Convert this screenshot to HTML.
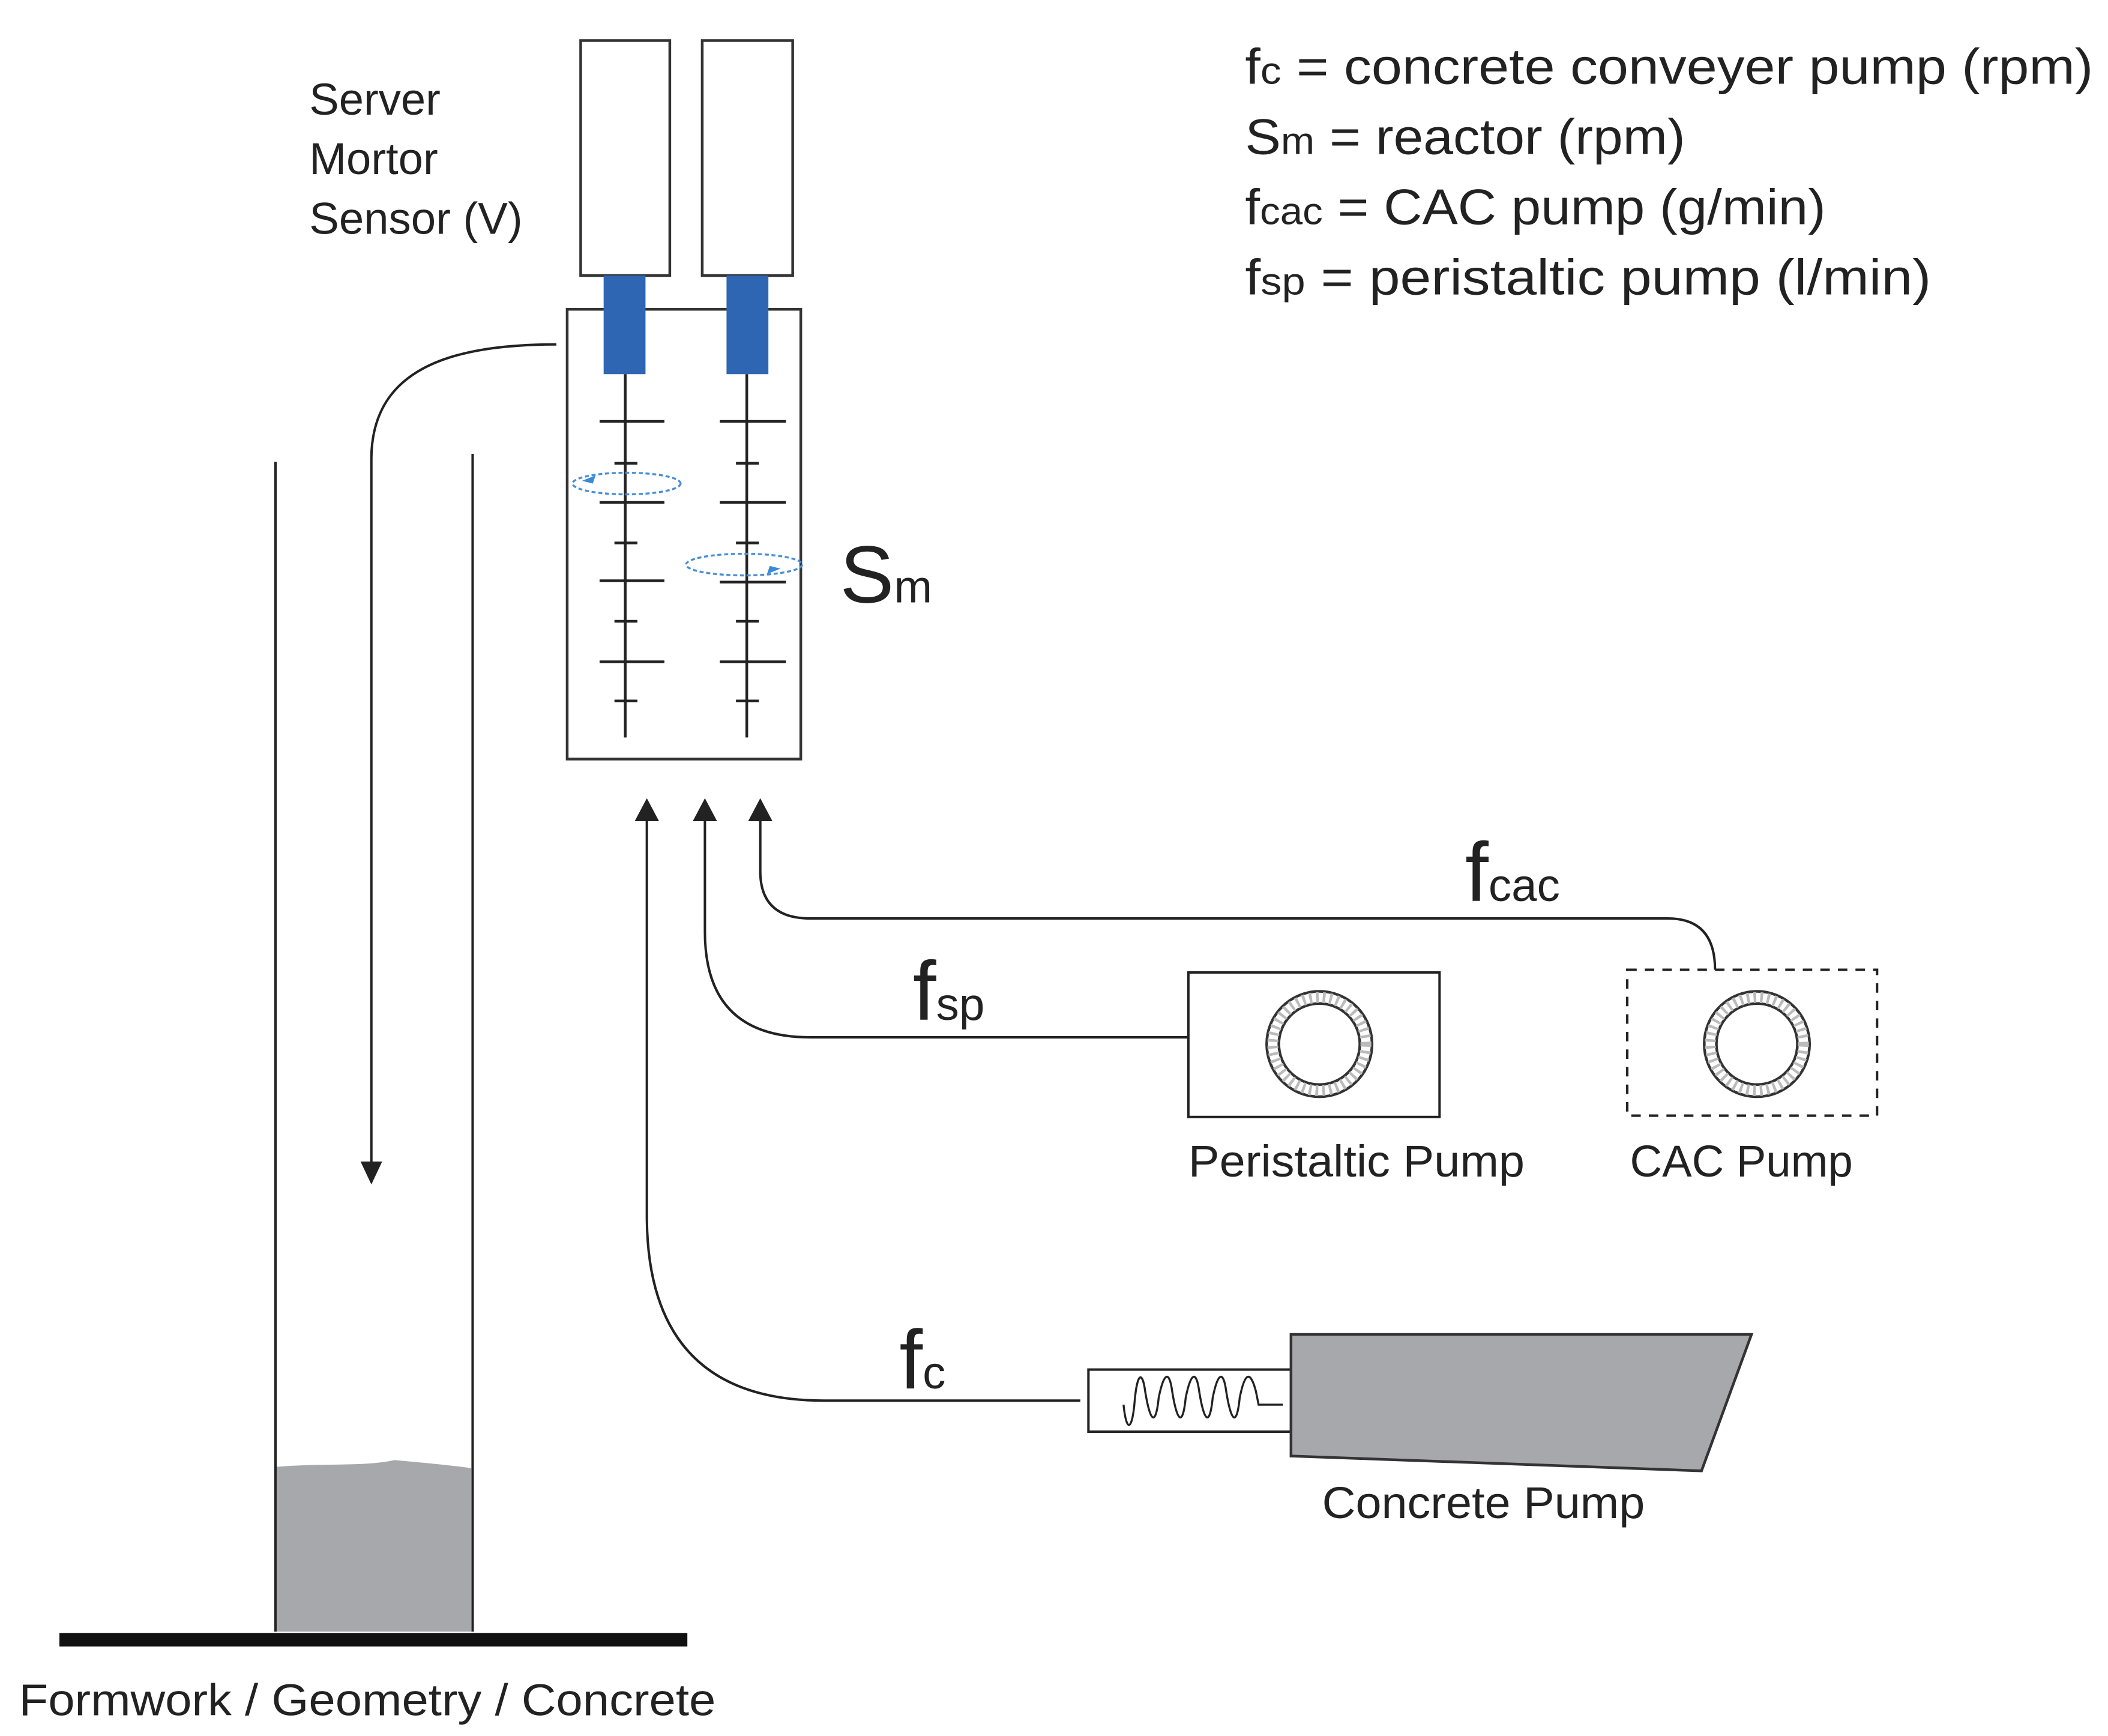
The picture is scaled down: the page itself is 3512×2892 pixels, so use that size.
<!DOCTYPE html>
<html><head><meta charset="utf-8"><style>html,body{margin:0;padding:0;background:#fff}svg{display:block}</style></head>
<body>
<svg width="3512" height="2892" viewBox="0 0 1561 1285.3" preserveAspectRatio="none" xmlns="http://www.w3.org/2000/svg" font-family="Liberation Sans, sans-serif" fill="#222">
<rect x="0" y="0" width="1561" height="1286" fill="#fff"/>
<g stroke="#333" stroke-width="2" fill="none">
<!-- motors -->
<rect x="430" y="30" width="66" height="174"/>
<rect x="520" y="30" width="67" height="174"/>
<!-- reactor -->
<rect x="420" y="229" width="173" height="333"/>
</g>
<rect x="447" y="204" width="31" height="73" fill="#2f66b3"/>
<rect x="538" y="204" width="31" height="73" fill="#2f66b3"/>
<g stroke="#222" stroke-width="2">
<line x1="463" y1="277" x2="463" y2="546"/>
<line x1="553" y1="277" x2="553" y2="546"/>
<line x1="444" y1="312" x2="492" y2="312"/><line x1="455" y1="343" x2="472" y2="343"/>
<line x1="444" y1="372" x2="492" y2="372"/><line x1="455" y1="402" x2="472" y2="402"/>
<line x1="444" y1="430" x2="492" y2="430"/><line x1="455" y1="460" x2="472" y2="460"/>
<line x1="444" y1="490" x2="492" y2="490"/><line x1="455" y1="519" x2="472" y2="519"/>
<line x1="533" y1="312" x2="582" y2="312"/><line x1="545" y1="343" x2="562" y2="343"/>
<line x1="533" y1="372" x2="582" y2="372"/><line x1="545" y1="402" x2="562" y2="402"/>
<line x1="533" y1="431" x2="582" y2="431"/><line x1="545" y1="460" x2="562" y2="460"/>
<line x1="533" y1="490" x2="582" y2="490"/><line x1="545" y1="519" x2="562" y2="519"/>
</g>
<g stroke="#4a8fd6" stroke-width="1.5" stroke-dasharray="3,2" fill="none">
<ellipse cx="464" cy="358" rx="40" ry="8"/>
<ellipse cx="551" cy="418" rx="43" ry="8"/>
</g>
<path d="M431,356 l10,-4 l-2,6z" fill="#3a8ad6"/>
<path d="M578,421 l-10,4 l2,-6z" fill="#3a8ad6"/>
<!-- return curve -->
<g stroke="#222" stroke-width="1.8" fill="none">
<path d="M412,255 C330,255 275,275 275,340 L275,862"/>
<line x1="204" y1="342" x2="204" y2="1208"/>
<line x1="350" y1="336" x2="350" y2="1208"/>
<path d="M563,606 L563,645 Q563,680 600,680 L1235,680 Q1270,680 1270,718"/>
<path d="M522,606 L522,690 Q522,768 600,768 L880,768"/>
<path d="M479,606 L479,900 Q479,1037 610,1037 L800,1037"/>
<rect x="880" y="720" width="186" height="107"/>
<rect x="1205" y="718" width="185" height="108" stroke-dasharray="7,6"/>
<rect x="806" y="1014" width="150" height="46"/>
<path d="M832,1040 C834,1060 838,1060 840,1040 C842,1015 846,1015 848,1030 C852,1055 856,1055 858,1035 C862,1015 866,1015 868,1030 C872,1055 876,1055 878,1035 C882,1015 886,1015 888,1030 C892,1055 896,1055 898,1035 C902,1015 906,1015 908,1030 C912,1055 916,1055 918,1035 C922,1015 926,1015 930,1030 L932,1040 L950,1040" stroke-width="1.5"/>
</g>
<path d="M267,860 L283,860 L275,877z" fill="#222"/>
<path d="M470,608 L488,608 L479,591z" fill="#222"/>
<path d="M513,608 L531,608 L522,591z" fill="#222"/>
<path d="M554,608 L572,608 L563,591z" fill="#222"/>
<!-- concrete fill -->
<path d="M205,1086 C240,1083 270,1086 292,1081 C315,1083 335,1085 349,1087 L349,1208 L205,1208z" fill="#a7a8ab"/>
<rect x="44" y="1209" width="465" height="10" fill="#111"/>
<!-- concrete pump -->
<path d="M956,988 L1297,988 L1260,1089 L956,1078z" fill="#a7a8ab" stroke="#333" stroke-width="2"/>
<!-- pump circles -->
<g fill="none" stroke="#333">
<circle cx="977" cy="773" r="39" stroke-width="2"/>
<circle cx="977" cy="773" r="30" stroke-width="2"/>
<circle cx="977" cy="773" r="34.5" stroke-width="8" stroke-dasharray="2,3" stroke="#bbb"/>
<circle cx="1301" cy="773" r="39" stroke-width="2"/>
<circle cx="1301" cy="773" r="30" stroke-width="2"/>
<circle cx="1301" cy="773" r="34.5" stroke-width="8" stroke-dasharray="2,3" stroke="#bbb"/>
</g>
<!-- texts -->
<g font-size="33" fill="#222">
<text x="229" y="85">Server</text>
<text x="229" y="129">Mortor</text>
<text x="229" y="173" textLength="158" lengthAdjust="spacingAndGlyphs">Sensor (V)</text>
<text x="880" y="871" textLength="249" lengthAdjust="spacingAndGlyphs">Peristaltic Pump</text>
<text x="1207" y="871" textLength="165" lengthAdjust="spacingAndGlyphs">CAC Pump</text>
<text x="979" y="1124" textLength="239" lengthAdjust="spacingAndGlyphs">Concrete Pump</text>
<text x="14" y="1270" textLength="516" lengthAdjust="spacingAndGlyphs">Formwork  / Geometry / Concrete</text>
</g>
<g font-size="37">
<text x="922" y="62" textLength="628" lengthAdjust="spacingAndGlyphs">f<tspan font-size="28">c</tspan> = concrete conveyer pump (rpm)</text>
<text x="922" y="114" textLength="326" lengthAdjust="spacingAndGlyphs">S<tspan font-size="28">m</tspan> = reactor (rpm)</text>
<text x="922" y="166" textLength="430" lengthAdjust="spacingAndGlyphs">f<tspan font-size="28">cac</tspan> = CAC pump (g/min)</text>
<text x="922" y="218" textLength="508" lengthAdjust="spacingAndGlyphs">f<tspan font-size="28">sp</tspan> = peristaltic pump (l/min)</text>
</g>
<g>
<text x="622" y="446" font-size="60">S<tspan font-size="34">m</tspan></text>
<text x="1085" y="667" font-size="62">f<tspan font-size="34">cac</tspan></text>
<text x="676" y="755" font-size="62">f<tspan font-size="34">sp</tspan></text>
<text x="666" y="1028" font-size="62">f<tspan font-size="34">c</tspan></text>
</g>
</svg>
</body></html>
